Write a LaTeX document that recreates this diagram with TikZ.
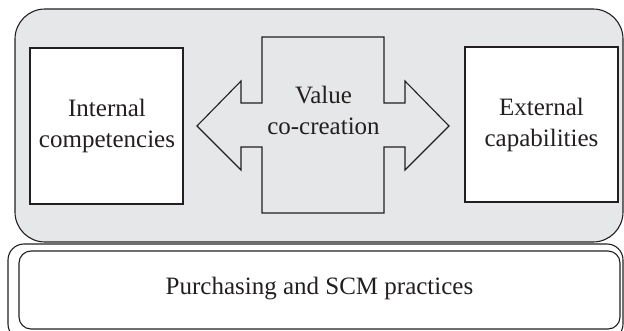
\documentclass[tikz,border=0pt]{standalone}
\usepackage{fontspec}
\setmainfont{Liberation Serif}
\definecolor{inkc}{HTML}{231F20}
\definecolor{panelgrey}{HTML}{E6E7E8}
\begin{document}
\begin{tikzpicture}[x=1pt,y=-1pt,
  edge/.style={draw=inkc,line width=1.1pt},
  lbl/.style={text=inkc,align=center,font=\fontsize{25}{31}\selectfont,inner sep=0pt},
  whitebox/.style={edge,fill=white,rectangle,inner sep=0pt}]
\useasboundingbox (0,0) rectangle (624,330);
% grey panel
\draw[edge,fill=panelgrey,rounded corners=30pt] (15,9) rectangle (623,242);
% bottom double box
\draw[edge,rounded corners=16pt] (8,244) rectangle (623,340);
\node[whitebox,rounded corners=12pt,minimum width=601pt,minimum height=78pt] (scm) at (319.5,290) {};
\node[lbl] (scmt) at (319.5,289) {Purchasing and SCM practices};
% side boxes
\node[whitebox,minimum width=153pt,minimum height=156pt] (int) at (106.5,126) {};
\node[lbl] (intt) at (107,126) {Internal\\competencies};
\node[whitebox,minimum width=153pt,minimum height=155pt] (ext) at (541.5,124.5) {};
\node[lbl] (extt) at (541.5,124.5) {External\\capabilities};
% double arrow
\draw[edge,fill=panelgrey,line join=miter]
  (197,126) -- (241,81) -- (241,103) -- (262,103) -- (262,37) -- (384,37)
  -- (384,103) -- (405,103) -- (405,81) -- (449,126) -- (405,170) -- (405,147)
  -- (384,147) -- (384,213) -- (262,213) -- (262,147) -- (241,147) -- (241,170) -- cycle;
\node[lbl] (vcc) at (323.5,110) {Value\\co-creation};
\end{tikzpicture}
\end{document}
